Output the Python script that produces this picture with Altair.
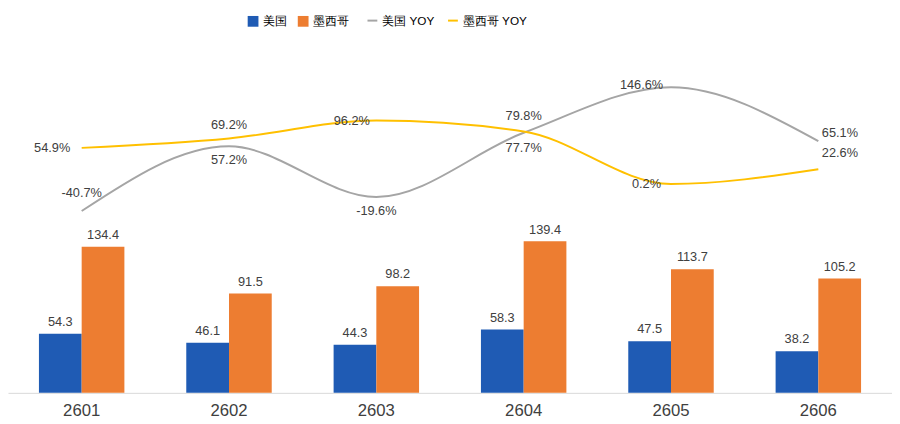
import pandas as pd
import altair as alt

periods = ['2601', '2602', '2603', '2604', '2605', '2606']
us = [54.3, 46.1, 44.3, 58.3, 47.5, 38.2]
mx = [134.4, 91.5, 98.2, 139.4, 113.7, 105.2]
us_yoy = [-40.7, 57.2, -19.6, 77.7, 146.6, 65.1]
mx_yoy = [54.9, 69.2, 96.2, 79.8, 0.2, 22.6]
# label offsets (px) for the yoy labels
us_off = [-18, 14, 14, 16, -2, -8]
mx_off = [0, -14, 0, -16, 0, -16]
us_dx = [0, 0, 0, 0, -30, 22]
mx_dx = [-30, 0, -25, 0, -25, 22]

bars = pd.DataFrame({
    'period': periods * 2,
    'series': ['美国'] * 6 + ['墨西哥'] * 6,
    'value': us + mx,
})
lines = pd.DataFrame({
    'period': periods * 2,
    'series': ['美国 YOY'] * 6 + ['墨西哥 YOY'] * 6,
    'yoy': us_yoy + mx_yoy,
    'off': us_off + mx_off,
    'dx': us_dx + mx_dx,
})
lines['label'] = lines['yoy'].map(lambda v: f'{v:.1f}%')

x = alt.X('period:N', title=None,
          scale=alt.Scale(paddingInner=0.42, paddingOuter=0.21),
          axis=alt.Axis(labelFontSize=17, labelColor='#404040', labelPadding=10,
                        labelAngle=0, ticks=False, domainColor='#d9d9d9'))
ybar = alt.Y('value:Q', scale=alt.Scale(domain=[0, 310]), axis=None)
ylin = alt.Y('yoy:Q', scale=alt.Scale(domain=[-316, 194]), axis=None)

bar_color = alt.Fill('series:N', title=None,
                     scale=alt.Scale(domain=['美国', '墨西哥'], range=['#1F5BB4', '#ED7D31']),
                     sort=['美国', '墨西哥'],
                     legend=alt.Legend(orient='none', legendX=243, legendY=-42, direction='horizontal',
                                       symbolType='square', labelFontSize=12, symbolSize=120))
line_color = alt.Stroke('series:N', title=None,
                        scale=alt.Scale(domain=['美国 YOY', '墨西哥 YOY'], range=['#A5A5A5', '#FFC000']),
                        sort=['美国 YOY', '墨西哥 YOY'],
                        legend=alt.Legend(orient='none', legendX=365, legendY=-42, direction='horizontal',
                                          symbolType='stroke', labelFontSize=12, symbolStrokeWidth=2))

b = alt.Chart(bars).encode(x=x, xOffset=alt.XOffset('series:N', sort=['美国', '墨西哥']), y=ybar)
bar_layer = b.mark_bar().encode(fill=bar_color)
bar_text = b.mark_text(dy=-12, fontSize=13, color='#404040').encode(text=alt.Text('value:Q', format='.1f'))

l = alt.Chart(lines).encode(x=x, y=ylin)
line_layer = l.mark_line(interpolate='monotone', strokeWidth=2).encode(stroke=line_color)

text_layers = []
for (dx, dy), grp in lines.groupby(['dx', 'off']):
    text_layers.append(
        alt.Chart(grp).mark_text(fontSize=13, color='#404040', dx=int(dx), dy=int(dy))
        .encode(x=x, y=ylin, text='label:N')
    )

chart = alt.layer(bar_layer, bar_text, line_layer, *text_layers).resolve_scale(
    y='independent'
).properties(
    width=900, height=424, autosize=alt.AutoSizeParams(type='fit', contains='padding'),
    padding={'top': 45, 'left': 0, 'right': 0, 'bottom': 10}
).configure(font='Arial', view=alt.ViewConfig(stroke=None))

chart.save("out.html", embed_options={"renderer": "svg", "actions": False})
